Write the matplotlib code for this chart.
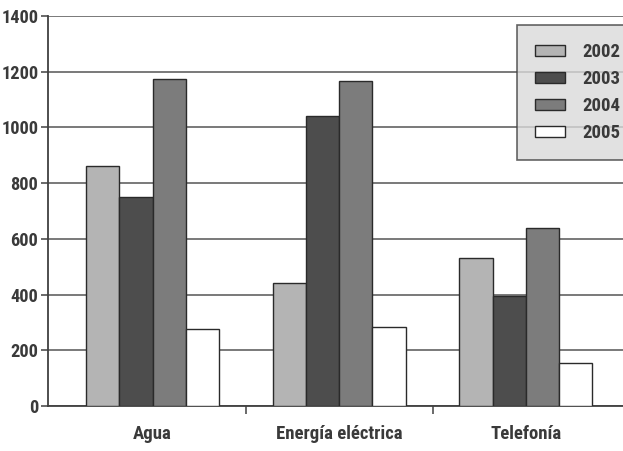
import matplotlib
matplotlib.use("Agg")
import matplotlib.pyplot as plt
from matplotlib import font_manager
import numpy as np

categories = ["Agua", "Energía eléctrica", "Telefonía"]
years = ["2002", "2003", "2004", "2005"]
v2002 = [860, 440, 530]
v2003 = [750, 1040, 395]
v2004 = [1175, 1165, 640]
v2005 = [275, 285, 155]
yticks = [0, 200, 400, 600, 800, 1000, 1200, 1400]

series = [v2002, v2003, v2004, v2005]
fills = ["#b4b4b4", "#4d4d4d", "#7c7c7c", "#ffffff"]
ink = "#3a3a3a"

# pick a narrow sans face if one is installed
installed = {f.name for f in font_manager.fontManager.ttflist}
narrow = [n for n in ["Liberation Sans Narrow", "DejaVu Sans Condensed",
                      "Roboto Condensed", "Open Sans Condensed"] if n in installed]
plt.rcParams["font.family"] = narrow + ["DejaVu Sans"]
plt.rcParams["font.stretch"] = "condensed"
scale = 1.0 if narrow else 0.85

fig = plt.figure(figsize=(6.23, 4.51), dpi=100)
ax = fig.add_axes([48 / 623, 45 / 451, 575 / 623, 390 / 451])

x = np.arange(len(categories))
width = 0.178
for i, (vals, col) in enumerate(zip(series, fills)):
    ax.bar(x + (i - 1.5) * width, vals, width, color=col,
           edgecolor="#2a2a2a", linewidth=1.0, label=years[i], zorder=3)

ax.set_ylim(0, 1400)
ax.set_xlim(-0.56, 2.52)
ax.set_yticks(yticks)
ax.set_yticklabels([str(t) for t in yticks], fontsize=13.2 * scale, color=ink,
                   fontweight="bold")
ax.yaxis.grid(True, color="#555555", linewidth=1.1, zorder=0)
ax.set_axisbelow(True)

ax.set_xticks(x)
ax.set_xticklabels(categories, fontsize=13.5 * scale, color=ink,
                   fontweight="bold")
ax.tick_params(axis="x", length=0, pad=14)
ax.tick_params(axis="y", length=5, width=1.2, color="#505050", pad=2,
               direction="out")
ax.set_xticks([0.5, 1.5], minor=True)
ax.tick_params(axis="x", which="minor", length=6, width=1.2, color="#505050",
               direction="out")

for side in ["top", "right"]:
    ax.spines[side].set_visible(False)
for side in ["left", "bottom"]:
    ax.spines[side].set_color("#404040")
    ax.spines[side].set_linewidth(1.3)

leg = fig.legend(loc="upper left", bbox_to_anchor=(517 / 623, 1 - 25 / 451),
                 frameon=True, fancybox=False, fontsize=13.5 * scale,
                 handlelength=1.6, handleheight=0.55, handletextpad=0.95,
                 labelspacing=0.48, borderpad=0.95, borderaxespad=0)
leg.get_frame().set_facecolor("#dadada")
leg.get_frame().set_edgecolor("#404040")
leg.get_frame().set_linewidth(1.2)
for t in leg.get_texts():
    t.set_color(ink)
    t.set_fontweight("bold")

fig.savefig("out.png", dpi=100, facecolor="white")
